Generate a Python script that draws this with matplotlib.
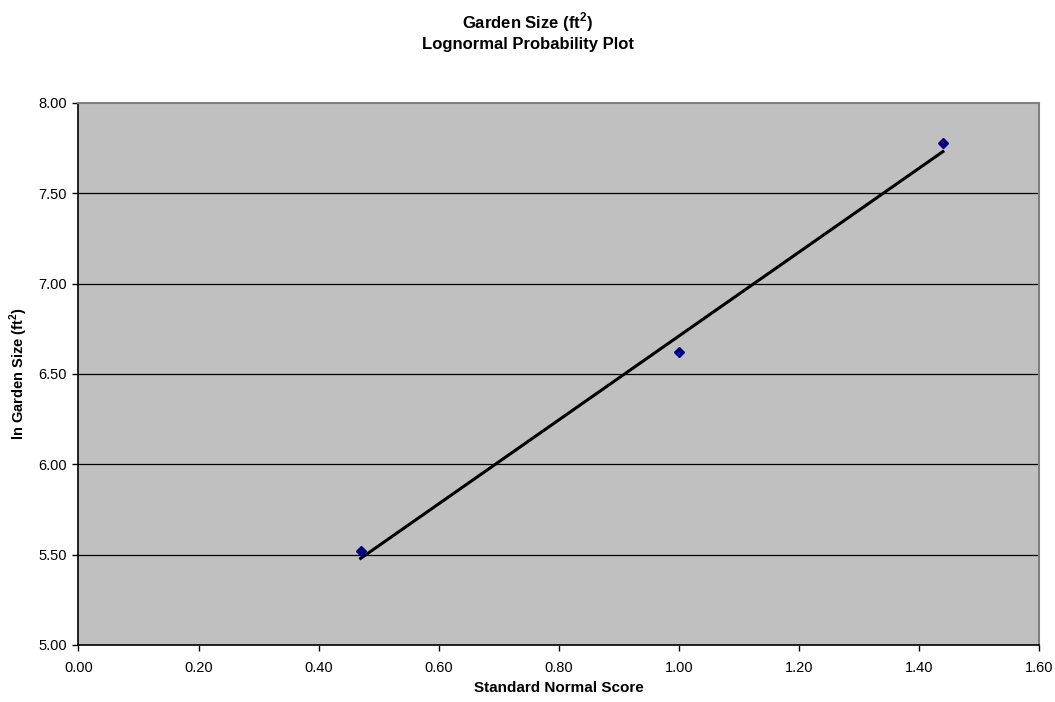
import numpy as np
import matplotlib
matplotlib.use("Agg")
import matplotlib.pyplot as plt

plt.rcParams['font.family'] = ['Liberation Sans', 'DejaVu Sans']
plt.rcParams['mathtext.fontset'] = 'custom'
plt.rcParams['mathtext.rm'] = 'Liberation Sans'
plt.rcParams['mathtext.bf'] = 'Liberation Sans:bold'

# data
z_score = [0.47, 1.00, 1.44]
ln_size = [5.52, 6.62, 7.78]

xticks = [0.0, 0.2, 0.4, 0.6, 0.8, 1.0, 1.2, 1.4, 1.6]
yticks = [5.0, 5.5, 6.0, 6.5, 7.0, 7.5, 8.0]

# linear trend line through the points
slope, intercept = np.polyfit(z_score, ln_size, 1)
xfit = np.array([min(z_score), max(z_score)])
yfit = slope * xfit + intercept

fig = plt.figure(figsize=(10.55, 7.02), dpi=100)
ax = fig.add_axes([0.0744, 0.0812, 0.9104, 0.7721])
ax.set_facecolor('#C0C0C0')

for yv in yticks[1:-1]:
    ax.axhline(yv, color='black', lw=0.9, zorder=1)

ax.plot(xfit, yfit, color='black', lw=2.2, zorder=2)
ax.plot(z_score, ln_size, linestyle='none', marker='D', ms=5.5,
        color='#000080', zorder=3)

ax.set_xlim(0, 1.6)
ax.set_ylim(5, 8)
ax.set_xticks(xticks)
ax.set_yticks(yticks)
ax.set_xticklabels(['%.2f' % v for v in xticks])
ax.set_yticklabels(['%.2f' % v for v in yticks])
ax.tick_params(direction='out', length=4.5, width=1, labelsize=10.5, pad=4)
ax.tick_params(axis='x', pad=7)

for s in ['top', 'right']:
    ax.spines[s].set_color('#808080')
    ax.spines[s].set_linewidth(1.5)
for s in ['left', 'bottom']:
    ax.spines[s].set_color('black')
    ax.spines[s].set_linewidth(1.2)

ax.set_xlabel('Standard Normal Score', fontsize=11, fontweight='bold', labelpad=4)
ax.set_ylabel(r'ln Garden Size (ft$^\mathbf{2}$)', fontsize=10.5, fontweight='bold', labelpad=6)

fig.text(0.5, 0.9687, r'Garden Size (ft$^\mathbf{2}$)', ha='center', va='center',
         fontsize=12, fontweight='bold')
fig.text(0.5, 0.9359, 'Lognormal Probability Plot', ha='center', va='center',
         fontsize=12, fontweight='bold')

fig.savefig('out.png', dpi=100)
